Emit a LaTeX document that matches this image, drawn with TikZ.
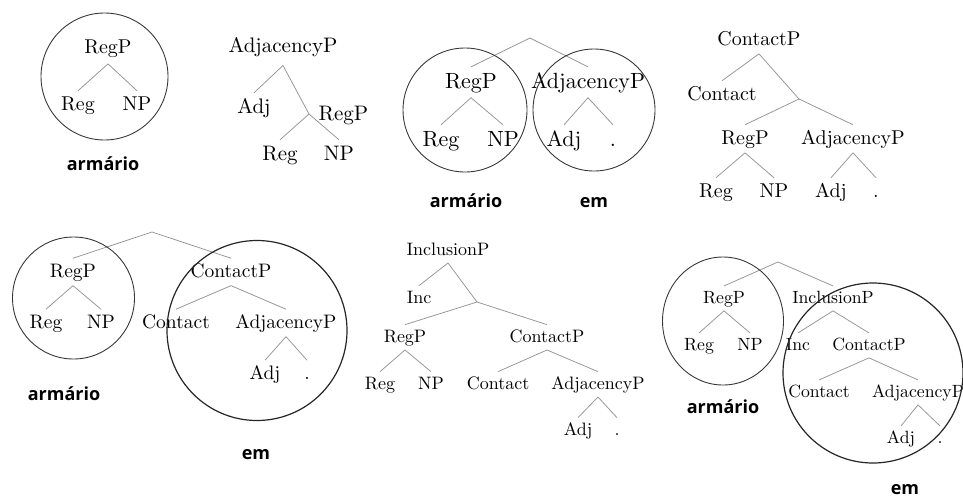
\documentclass[tikz,border=0pt]{standalone}
\usepackage{fontspec}
\newfontfamily\treefont{lmroman10-regular.otf}
\newfontfamily\glossfont{Open Sans}
\begin{document}
\begin{tikzpicture}[x=1pt,y=-1pt,
  every node/.style={font=\treefont},
  tn/.style={anchor=base, inner sep=0.333em, text height=0.62em, text depth=0.1em},
  branch/.style={draw=black!42, line width=0.75pt},
  ring/.style={draw=black!78, line width=0.9pt},
  bigring/.style={draw=black!85, line width=1.2pt},
  gloss/.style={anchor=base, inner sep=0pt, font=\glossfont\bfseries\fontsize{18}{21}\selectfont},
]
\useasboundingbox (0,0) rectangle (963,498);
\clip (0,0) rectangle (963,498);

% (1) RegP alone
\begin{scope}[tn/.append style={text depth=0.2em}]
\fontsize{20}{24}\selectfont
\node[tn] (a-rp)  at (108,53)  {RegP};
\node[tn] (a-reg) at (78,110)  {Reg};
\node[tn] (a-np)  at (137,110) {NP};
\draw[branch] (a-rp.south) -- (a-reg.north);
\draw[branch] (a-rp.south) -- (a-np.north);
\draw[ring] (104.5,76.5) circle[radius=63.5pt];
\node[gloss] (a-gl) at (103,170) {armário};
\end{scope}

% (2) AdjacencyP over Adj and RegP
\begin{scope}[tn/.append style={text depth=0.3em}]
\fontsize{21}{25}\selectfont
\node[tn] (b-ap)  at (283,52)  {AdjacencyP};
\node[tn] (b-adj) at (254,113) {Adj};
\node[tn, anchor=west, text depth=0pt, inner xsep=0.45em] (b-rp) at (309,114) {RegP};
\node[tn] (b-reg) at (280,160) {Reg};
\node[tn] (b-np)  at (339,160) {NP};
\draw[branch] (b-ap.south) -- (b-adj.north);
\draw[branch] (b-ap.south) -- (b-rp.west);
\draw[branch] (b-rp.west) -- (b-reg.north);
\draw[branch] (b-rp.west) -- (b-np.north);
\end{scope}

% (3) RegP + AdjacencyP, two circled parts
\begin{scope}
\fontsize{22}{26}\selectfont
\coordinate (c-top) at (530,38);
\node[tn] (c-rp)  at (471,88)  {RegP};
\node[tn] (c-ap)  at (588,88)  {AdjacencyP};
\node[tn] (c-reg) at (441,146) {Reg};
\node[tn] (c-np)  at (503,146) {NP};
\node[tn] (c-adj) at (564,146) {Adj};
\node[tn] (c-dot) at (613,146) {.};
\draw[branch] (c-top) -- (c-rp.north);
\draw[branch] (c-top) -- (c-ap.north);
\draw[branch] (c-rp.south) -- (c-reg.north);
\draw[branch] (c-rp.south) -- (c-np.north);
\draw[branch] (c-ap.south) -- (c-adj.north);
\draw[branch] (c-ap.south) -- (c-dot.north);
\draw[ring] (465,110) circle[radius=62pt];
\draw[ring] (594,110) circle[radius=61pt];
\node[gloss] (c-gl1) at (466,207) {armário};
\node[gloss] (c-gl2) at (594,207) {em};
\end{scope}

% (4) ContactP
\begin{scope}
\fontsize{20}{24}\selectfont
\node[tn] (d-cp)  at (759,45)  {ContactP};
\node[tn] (d-c)   at (722,100) {Contact};
\coordinate (d-j) at (799,99);
\node[tn] (d-rp)  at (745,144) {RegP};
\node[tn] (d-ap)  at (853,144) {AdjacencyP};
\node[tn] (d-reg) at (716,197) {Reg};
\node[tn] (d-np)  at (774,197) {NP};
\node[tn] (d-adj) at (831,197) {Adj};
\node[tn] (d-dot) at (876,197) {.};
\draw[branch] (d-cp.south) -- (d-c.north);
\draw[branch] (d-cp.south) -- (d-j);
\draw[branch] (d-j) -- (d-rp.north);
\draw[branch] (d-j) -- (d-ap.north);
\draw[branch] (d-rp.south) -- (d-reg.north);
\draw[branch] (d-rp.south) -- (d-np.north);
\draw[branch] (d-ap.south) -- (d-adj.north);
\draw[branch] (d-ap.south) -- (d-dot.north);
\end{scope}

% (5) RegP + ContactP, two circled parts
\begin{scope}
\fontsize{19.5}{23}\selectfont
\coordinate (e-top) at (152,232);
\node[tn] (e-rp)  at (73,277)  {RegP};
\node[tn] (e-cp)  at (231,277) {ContactP};
\node[tn] (e-reg) at (46,328)  {Reg};
\node[tn] (e-np)  at (101,328) {NP};
\node[tn] (e-c)   at (176,328) {Contact};
\node[tn] (e-ap)  at (286,328) {AdjacencyP};
\node[tn] (e-adj) at (265,379) {Adj};
\node[tn] (e-dot) at (307,379) {.};
\draw[branch] (e-top) -- (e-rp.north);
\draw[branch] (e-top) -- (e-cp.north);
\draw[branch] (e-rp.south) -- (e-reg.north);
\draw[branch] (e-rp.south) -- (e-np.north);
\draw[branch] (e-cp.south) -- (e-c.north);
\draw[branch] (e-cp.south) -- (e-ap.north);
\draw[branch] (e-ap.south) -- (e-adj.north);
\draw[branch] (e-ap.south) -- (e-dot.north);
\draw[ring] (73.5,298) circle[radius=61pt];
\draw[bigring] (257,330.5) circle[radius=90pt];
\node[gloss] (e-gl1) at (64,400)  {armário};
\node[gloss] (e-gl2) at (256,459) {em};
\end{scope}

% (6) InclusionP
\begin{scope}
\fontsize{18}{22}\selectfont
\node[tn] (f-ip)  at (448,255) {InclusionP};
\node[tn] (f-inc) at (419,303) {Inc};
\coordinate (f-j) at (477,302);
\node[tn] (f-rp)  at (405,342) {RegP};
\node[tn] (f-cp)  at (547,342) {ContactP};
\node[tn] (f-reg) at (380,389) {Reg};
\node[tn] (f-np)  at (431,389) {NP};
\node[tn] (f-c)   at (498,389) {Contact};
\node[tn] (f-ap)  at (598,389) {AdjacencyP};
\node[tn] (f-adj) at (578,435) {Adj};
\node[tn] (f-dot) at (617,435) {.};
\draw[branch] (f-ip.south) -- (f-inc.north);
\draw[branch] (f-ip.south) -- (f-j);
\draw[branch] (f-j) -- (f-rp.north);
\draw[branch] (f-j) -- (f-cp.north);
\draw[branch] (f-rp.south) -- (f-reg.north);
\draw[branch] (f-rp.south) -- (f-np.north);
\draw[branch] (f-cp.south) -- (f-c.north);
\draw[branch] (f-cp.south) -- (f-ap.north);
\draw[branch] (f-ap.south) -- (f-adj.north);
\draw[branch] (f-ap.south) -- (f-dot.north);
\end{scope}

% (7) RegP + InclusionP, two circled parts
\begin{scope}
\fontsize{17.7}{21}\selectfont
\coordinate (g-top) at (778,262);
\node[tn] (g-rp)  at (724,303) {RegP};
\node[tn] (g-ip)  at (833,303) {InclusionP};
\node[tn] (g-reg) at (699,350) {Reg};
\node[tn] (g-np)  at (750,350) {NP};
\node[tn] (g-inc) at (798,350) {Inc};
\node[tn] (g-cp)  at (869,350) {ContactP};
\node[tn] (g-c)   at (819,397) {Contact};
\node[tn] (g-ap)  at (918,397) {AdjacencyP};
\node[tn] (g-adj) at (901,443) {Adj};
\node[tn] (g-dot) at (940,443) {.};
\draw[branch] (g-top) -- (g-rp.north);
\draw[branch] (g-top) -- (g-ip.north);
\draw[branch] (g-rp.south) -- (g-reg.north);
\draw[branch] (g-rp.south) -- (g-np.north);
\draw[branch] (g-ip.south) -- (g-inc.north);
\draw[branch] (g-ip.south) -- (g-cp.north);
\draw[branch] (g-cp.south) -- (g-c.north);
\draw[branch] (g-cp.south) -- (g-ap.north);
\draw[branch] (g-ap.south) -- (g-adj.north);
\draw[branch] (g-ap.south) -- (g-dot.north);
\draw[ring] (723,321) ellipse[x radius=60.5pt, y radius=64pt];
\draw[bigring] (873,373) circle[radius=90pt];
\node[gloss] (g-gl1) at (723,413) {armário};
\node[gloss] (g-gl2) at (905,494) {em};
\end{scope}
\end{tikzpicture}
\end{document}
